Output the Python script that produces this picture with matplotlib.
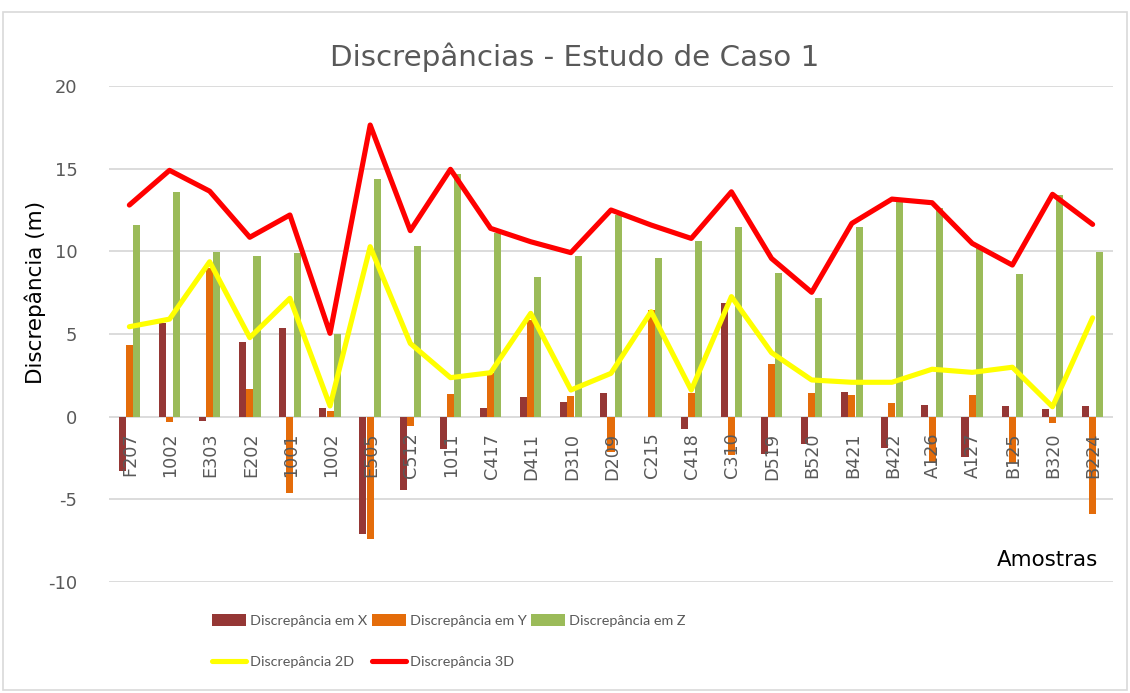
import matplotlib
matplotlib.use("Agg")
import matplotlib.pyplot as plt
import numpy as np
from matplotlib.patches import Rectangle

samples = ["F207", "1002", "E303", "E202", "1001", "1002", "E505", "C512",
           "1011", "C417", "D411", "D310", "D209", "C215", "C418", "C310",
           "D519", "B520", "B421", "B422", "A126", "A127", "B125", "B320", "B224"]

disc_x = [-3.30, 5.65, -0.24, 4.50, 5.34, 0.50, -7.10, -4.43, -1.95, 0.50,
          1.17, 0.89, 1.45, 0.00, -0.74, 6.86, -2.26, -1.65, 1.51, -1.87,
          0.71, -2.42, 0.65, 0.45, 0.67]
disc_y = [4.33, -0.30, 8.97, 1.65, -4.63, 0.37, -7.41, -0.54, 1.35, 2.62,
          5.85, 1.25, -2.12, 6.45, 1.41, -2.31, 3.19, 1.45, 1.33, 0.85,
          -2.72, 1.31, -2.82, -0.40, -5.90]
disc_z = [11.57, 13.60, 9.94, 9.72, 9.88, 4.98, 14.35, 10.32, 14.67, 11.09,
          8.43, 9.72, 12.20, 9.57, 10.62, 11.49, 8.71, 7.20, 11.49, 13.00,
          12.60, 10.18, 8.63, 13.40, 9.98]
disc_2d = [5.44, 5.90, 9.37, 4.78, 7.16, 0.65, 10.28, 4.43, 2.36, 2.66,
           6.25, 1.61, 2.62, 6.35, 1.61, 7.26, 3.87, 2.22, 2.08, 2.08,
           2.87, 2.68, 2.99, 0.60, 5.98]
disc_3d = [12.80, 14.90, 13.64, 10.85, 12.20, 5.04, 17.64, 11.25, 14.96, 11.39,
           10.58, 9.92, 12.50, 11.59, 10.78, 13.60, 9.57, 7.52, 11.69, 13.16,
           12.94, 10.48, 9.17, 13.45, 11.63]
yticks = [-10, -5, 0, 5, 10, 15, 20]

W, H = 1130, 693
fig = plt.figure(figsize=(W / 100, H / 100), dpi=100)
fig.patch.set_facecolor("white")

# outer chart border
fig.patches.append(Rectangle((3 / W, 3 / H), 1124 / W, 1 - 15 / H,
                             transform=fig.transFigure, fill=False,
                             edgecolor="#d9d9d9", linewidth=1.2, zorder=0))

ax = fig.add_axes([109.3 / W, 1 - 582 / H, (1112.7 - 109.3) / W, (582 - 86) / H])
n = len(samples)
x = np.arange(n)
bw = 0.175
off = 0.18

c_x, c_y, c_z = "#953735", "#E46C0A", "#9BBB59"
b1 = ax.bar(x - off, disc_x, bw, color=c_x, zorder=2)
b2 = ax.bar(x, disc_y, bw, color=c_y, zorder=2)
b3 = ax.bar(x + off, disc_z, bw, color=c_z, zorder=2)
l2, = ax.plot(x, disc_2d, color="#FFFF00", lw=3.7, zorder=3,
              solid_capstyle="round", solid_joinstyle="round")
l3, = ax.plot(x, disc_3d, color="#FF0000", lw=3.7, zorder=4,
              solid_capstyle="round", solid_joinstyle="round")

ax.set_xlim(-0.5, n - 0.5)
ax.set_ylim(-10, 20)
ax.set_yticks(yticks)
ax.set_yticklabels([str(v) for v in yticks], fontsize=12.9, color="#595959")
ax.tick_params(axis="y", length=0, pad=23)
ax.set_xticks([])
ax.grid(axis="y", color="#d9d9d9", linewidth=1.3, zorder=0)
ax.set_axisbelow(True)
for s in ax.spines.values():
    s.set_visible(False)

# category labels sit just under the zero line
for i, lab in enumerate(samples):
    ax.annotate(lab, xy=(i, 0), xytext=(1, -16), textcoords="offset pixels",
                rotation=90, ha="center", va="top", fontsize=12.7,
                color="#595959", zorder=6)

fig.text(35 / W, 1 - 292 / H, "Discrepância (m)", rotation=90,
         ha="center", va="center", fontsize=15.5, color="#000000")

fig.text(1098 / W, 1 - 560 / H, "Amostras", ha="right", va="center",
         fontsize=15.4, color="#000000")

fig.text(575 / W, 1 - 57 / H, "Discrepâncias - Estudo de Caso 1",
         ha="center", va="center", fontsize=21.2, color="#595959")

leg = fig.legend([b1, l2, b2, l3, b3],
                 ["Discrepância em X", "Discrepância 2D", "Discrepância em Y",
                  "Discrepância 3D", "Discrepância em Z"],
                 ncol=3, loc="center left",
                 bbox_to_anchor=(212 / W, 1 - 641 / H),
                 frameon=False, borderpad=0, borderaxespad=0,
                 handlelength=2.35, handleheight=0.9, handletextpad=0.28,
                 columnspacing=0.3, labelspacing=2.0,
                 prop={"family": ["Lato", "DejaVu Sans"], "size": 10.4})
for t in leg.get_texts():
    t.set_color("#595959")

fig.savefig("out.png", dpi=100)
